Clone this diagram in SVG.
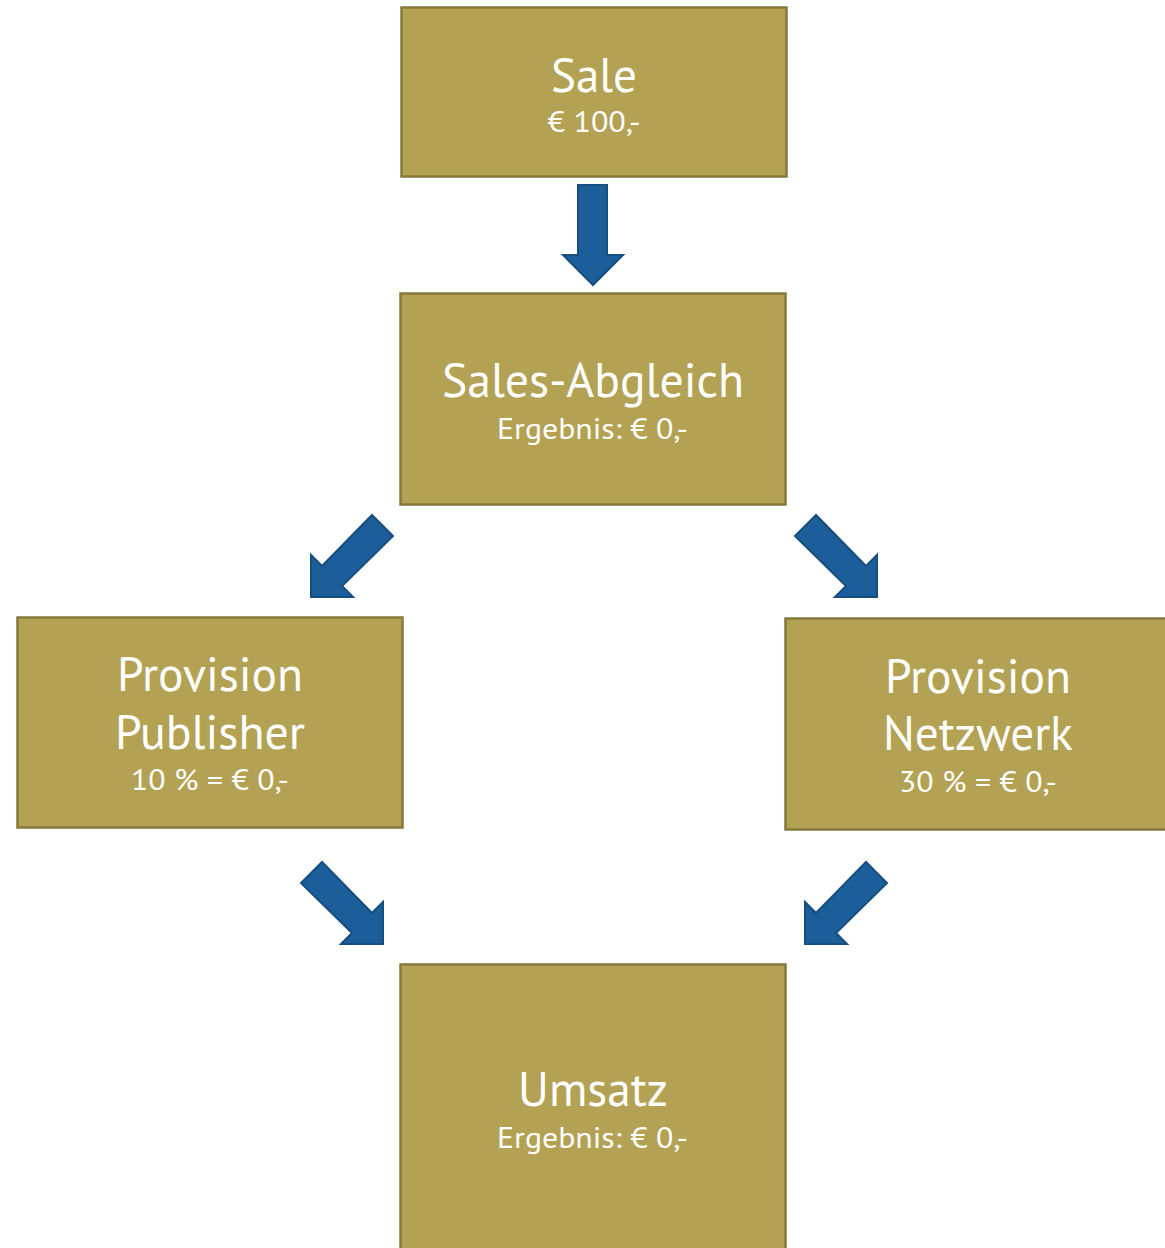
<svg xmlns="http://www.w3.org/2000/svg" width="1165" height="1248" viewBox="0 0 1165 1248">
<defs>
<style>
.box{fill:#B4A254;stroke:#857A3C;stroke-width:2.5}
.arr{fill:#1B5E99;stroke:#164E80;stroke-width:2;stroke-linejoin:miter}
.t{font-family:"PT Sans",Lato,"Noto Sans",sans-serif;fill:#FFFFFF;text-anchor:middle}
.h{font-size:48px}
.s{font-size:30px}
</style>
<polygon id="dl" points="61,-82 82,-61 31,-11 42,0 0,0 0,-42 11,-31"/>
<polygon id="dr" points="-61,-82 -82,-61 -31,-11 -42,0 0,0 0,-42 -11,-31"/>
</defs>
<rect width="1165" height="1248" fill="#FFFFFF"/>
<g id="connectors">
<polygon class="arr" points="578,185 607,185 607,255 623,255 593,285 563,255 578,255"/>
<use href="#dl" class="arr" transform="translate(311,597)"/>
<use href="#dr" class="arr" transform="translate(877,597)"/>
<use href="#dr" class="arr" transform="translate(383,944)"/>
<use href="#dl" class="arr" transform="translate(805,944)"/>
</g>
<g id="sale">
<rect class="box" x="401.5" y="7.5" width="385" height="169"/>
<text class="t h" x="594" y="92" textLength="86" lengthAdjust="spacingAndGlyphs">Sale</text>
<text class="t s" x="594" y="132" textLength="93" lengthAdjust="spacingAndGlyphs">€ 100,-</text>
</g>
<g id="sales-abgleich">
<rect class="box" x="400.5" y="293.5" width="385" height="211"/>
<text class="t h" x="593" y="397" textLength="302" lengthAdjust="spacingAndGlyphs">Sales-Abgleich</text>
<text class="t s" x="592.5" y="439" textLength="191" lengthAdjust="spacingAndGlyphs">Ergebnis: € 0,-</text>
</g>
<g id="provision-publisher">
<rect class="box" x="17.5" y="617.5" width="385" height="210"/>
<text class="t h" x="210" y="691" textLength="186" lengthAdjust="spacingAndGlyphs">Provision</text>
<text class="t h" x="210" y="749" textLength="190" lengthAdjust="spacingAndGlyphs">Publisher</text>
<text class="t s" x="210" y="790" textLength="158" lengthAdjust="spacingAndGlyphs">10 % = € 0,-</text>
</g>
<g id="provision-netzwerk">
<rect class="box" x="785.5" y="618.5" width="385" height="211"/>
<text class="t h" x="978" y="693" textLength="186" lengthAdjust="spacingAndGlyphs">Provision</text>
<text class="t h" x="978" y="750" textLength="190" lengthAdjust="spacingAndGlyphs">Netzwerk</text>
<text class="t s" x="978" y="792" textLength="158" lengthAdjust="spacingAndGlyphs">30 % = € 0,-</text>
</g>
<g id="umsatz">
<rect class="box" x="400.5" y="964.5" width="385" height="290"/>
<text class="t h" x="593" y="1106" textLength="150" lengthAdjust="spacingAndGlyphs">Umsatz</text>
<text class="t s" x="592.5" y="1148" textLength="191" lengthAdjust="spacingAndGlyphs">Ergebnis: € 0,-</text>
</g>
</svg>
